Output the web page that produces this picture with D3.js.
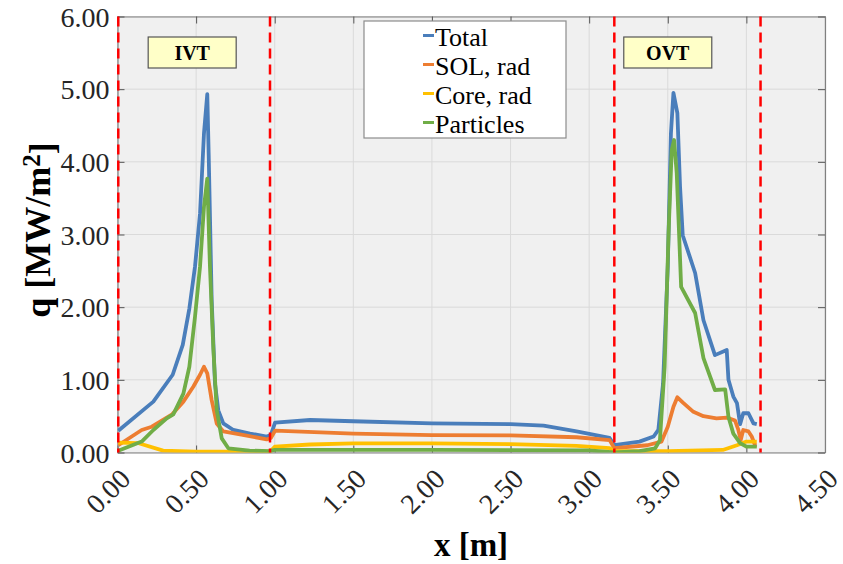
<!DOCTYPE html>
<html>
<head>
<meta charset="utf-8">
<script src="https://cdn.jsdelivr.net/npm/d3@7"></script>
<style>
  body { margin: 0; background: #fff; }
  text { font-family: "Liberation Serif", "DejaVu Serif", serif; }
</style>
</head>
<body>
<div id="chart"></div>
<script>
// heat flux profiles along the wall
const xTotal = [0.005,0.228,0.351,0.415,0.457,0.493,0.525,0.550,0.571,0.580,0.599,0.620,0.641,0.673,0.737,0.843,0.949,0.975,1.002,1.225,1.5,2.0,2.5,2.71,2.92,3.13,3.16,3.32,3.41,3.44,3.47,3.50,3.52,3.536,3.561,3.578,3.595,3.674,3.727,3.80,3.875,3.886,3.917,3.94,3.96,3.98,4.013,4.045,4.066];
const yTotal = [0.30,0.70,1.07,1.48,1.98,2.56,3.29,4.39,4.93,4.10,2.10,0.95,0.58,0.40,0.31,0.26,0.22,0.24,0.41,0.447,0.43,0.40,0.39,0.37,0.29,0.20,0.10,0.15,0.22,0.31,0.95,2.56,4.39,4.95,4.67,3.66,2.99,2.47,1.82,1.34,1.41,1.00,0.77,0.68,0.39,0.54,0.54,0.40,0.39];

const xSol = [0.005,0.154,0.218,0.345,0.419,0.482,0.525,0.550,0.571,0.599,0.631,0.673,0.779,0.949,0.975,1.002,1.5,2.0,2.5,2.92,3.13,3.16,3.37,3.46,3.50,3.536,3.561,3.60,3.663,3.727,3.81,3.875,3.928,3.949,3.964,3.98,4.013,4.034,4.055,4.066];
const ySol = [0.10,0.31,0.355,0.52,0.70,0.905,1.07,1.18,1.09,0.72,0.40,0.29,0.25,0.18,0.20,0.30,0.26,0.24,0.235,0.21,0.17,0.06,0.10,0.15,0.355,0.63,0.76,0.68,0.56,0.50,0.47,0.48,0.44,0.31,0.17,0.31,0.29,0.22,0.10,0.10];

const xCore = [0.005,0.13,0.29,0.5,0.97,1.0,1.225,1.5,2.0,2.5,2.92,3.13,3.16,3.5,3.85,3.94,4.0,4.066];
const yCore = [0.135,0.13,0.025,0.01,0.01,0.08,0.11,0.125,0.125,0.115,0.09,0.06,0.02,0.02,0.035,0.10,0.15,0.15];

const xPart = [0.005,0.154,0.228,0.313,0.355,0.419,0.457,0.493,0.525,0.550,0.571,0.588,0.610,0.631,0.663,0.705,0.84,0.97,1.0,2.0,3.0,3.16,3.32,3.42,3.45,3.48,3.505,3.525,3.54,3.557,3.585,3.674,3.727,3.80,3.865,3.886,3.917,3.96,4.0,4.066];
const yPart = [0.025,0.15,0.31,0.47,0.525,0.81,1.18,1.87,2.56,3.38,3.77,2.56,1.41,0.585,0.195,0.058,0.025,0.02,0.035,0.035,0.03,0.0,0.02,0.058,0.17,1.18,3.02,4.16,4.30,3.84,2.28,1.92,1.30,0.86,0.87,0.49,0.26,0.13,0.08,0.08];

const seriesNames = ["Total", "SOL, rad", "Core, rad", "Particles"];
const seriesColors = ["#4a7ebb", "#ed7d31", "#ffc000", "#70ad47"];
const regionX = [0.005, 0.97, 3.16, 4.09];
const regionLabels = ["IVT", "OVT"];
const regionLabelX = [0.475, 3.5];
const xTicks = [0, 0.5, 1, 1.5, 2, 2.5, 3, 3.5, 4, 4.5];
const yTicks = [0, 1, 2, 3, 4, 5, 6];

const W = 843, H = 564;
const margin = {top: 16.5, right: 18, bottom: 111.5, left: 117.5};
const width = W - margin.left - margin.right,
    height = H - margin.top - margin.bottom;

const x = d3.scaleLinear().domain([0, 4.5]).range([0, width]);
const y = d3.scaleLinear().domain([0, 6]).range([height, 0]);

const svg = d3.select("#chart")
    .append("svg")
    .attr("width", W)
    .attr("height", H)
    .append("g")
    .attr("transform", "translate(" + margin.left + "," + margin.top + ")");

svg.append("rect")
    .attr("width", width)
    .attr("height", height)
    .attr("fill", "#f0f0f0");

svg.append("defs").append("clipPath").attr("id", "clip")
    .append("rect").attr("width", width).attr("height", height);

// grid
svg.append("g").selectAll("line").data(xTicks).enter().append("line")
    .attr("x1", d => x(d)).attr("x2", d => x(d))
    .attr("y1", 0).attr("y2", height)
    .attr("stroke", "#dadada").attr("stroke-width", 1);
svg.append("g").selectAll("line").data(yTicks).enter().append("line")
    .attr("y1", d => y(d)).attr("y2", d => y(d))
    .attr("x1", 0).attr("x2", width)
    .attr("stroke", "#dadada").attr("stroke-width", 1);

// axes with inward ticks on all sides
const axisColor = "#808080";
const xb = svg.append("g")
    .attr("transform", "translate(0," + height + ")")
    .call(d3.axisBottom(x).tickValues(xTicks).tickSize(-7).tickFormat(d3.format(".2f")).tickSizeOuter(0));
const xt = svg.append("g")
    .call(d3.axisTop(x).tickValues(xTicks).tickSize(-7).tickFormat("").tickSizeOuter(0));
const yl = svg.append("g")
    .call(d3.axisLeft(y).tickValues(yTicks).tickSize(-7).tickFormat(d3.format(".2f")).tickSizeOuter(0));
const yr = svg.append("g")
    .attr("transform", "translate(" + width + ",0)")
    .call(d3.axisRight(y).tickValues(yTicks).tickSize(-7).tickFormat("").tickSizeOuter(0));

[xb, xt, yl, yr].forEach(g => {
    g.select(".domain").attr("stroke", axisColor).attr("stroke-width", 1.2);
    g.selectAll(".tick line").attr("stroke", "#555");
});

xb.selectAll("text")
    .style("font-family", "Liberation Serif")
    .style("font-size", "28px")
    .attr("fill", "#262626")
    .style("text-anchor", "end")
    .attr("dx", "0")
    .attr("dy", "0")
    .attr("transform", "translate(12,26) rotate(-45)");

yl.selectAll("text")
    .style("font-family", "Liberation Serif")
    .style("font-size", "28px")
    .attr("fill", "#262626")
    .attr("x", -8)
    .attr("dy", "0.34em");

// series lines
const series = [
    {x: xTotal, y: yTotal},
    {x: xSol, y: ySol},
    {x: xCore, y: yCore},
    {x: xPart, y: yPart}
];
const line = d3.line().x(d => x(d[0])).y(d => y(d[1]));

const plot = svg.append("g").attr("clip-path", "url(#clip)");
series.forEach((s, i) => {
    plot.append("path")
        .datum(d3.zip(s.x, s.y))
        .attr("fill", "none")
        .attr("stroke", seriesColors[i])
        .attr("stroke-width", 3.8)
        .attr("stroke-linejoin", "round")
        .attr("d", line);
});

// region boundaries
svg.append("g").selectAll("line").data(regionX).enter().append("line")
    .attr("x1", d => x(d)).attr("x2", d => x(d))
    .attr("y1", 0).attr("y2", height)
    .attr("stroke", "#ff0000")
    .attr("stroke-width", 2.5)
    .attr("stroke-dasharray", "10,6");

// IVT / OVT boxes
regionLabels.forEach((lab, i) => {
    const cx = x(regionLabelX[i]);
    svg.append("rect")
        .attr("x", cx - 44).attr("y", 37 - margin.top)
        .attr("width", 88).attr("height", 31)
        .attr("fill", "#ffffc8").attr("stroke", "#555").attr("stroke-width", 1.2);
    svg.append("text")
        .attr("x", cx).attr("y", 60 - margin.top)
        .attr("text-anchor", "middle")
        .style("font-size", "20px").style("font-weight", "bold")
        .text(lab);
});

// legend
const lg = svg.append("g").attr("transform", "translate(" + (364 - margin.left) + "," + (21 - margin.top) + ")");
lg.append("rect")
    .attr("width", 202).attr("height", 117)
    .attr("fill", "#fff").attr("stroke", "#8c8c8c").attr("stroke-width", 1.2);
seriesNames.forEach((n, i) => {
    const yy = 24.5 + i * 29;
    lg.append("line")
        .attr("x1", 59).attr("x2", 70)
        .attr("y1", yy - 10).attr("y2", yy - 10)
        .attr("stroke", seriesColors[i]).attr("stroke-width", 3);
    lg.append("text")
        .attr("x", 71).attr("y", yy)
        .style("font-size", "26px")
        .text(n);
});

// axis titles
svg.append("text")
    .attr("x", 471 - margin.left).attr("y", 556 - margin.top)
    .attr("text-anchor", "middle")
    .style("font-size", "33px").style("font-weight", "bold")
    .text("x [m]");

const yt = svg.append("text")
    .attr("transform", "translate(" + (50 - margin.left) + "," + (230 - margin.top) + ") rotate(-90)")
    .attr("text-anchor", "middle")
    .style("font-size", "36px").style("font-weight", "bold");
yt.append("tspan").text("q [MW/m");
yt.append("tspan").attr("dy", "-0.4em").style("font-size", "25px").text("2");
yt.append("tspan").attr("dy", "0.4em").text("]");
</script>
</body>
</html>
